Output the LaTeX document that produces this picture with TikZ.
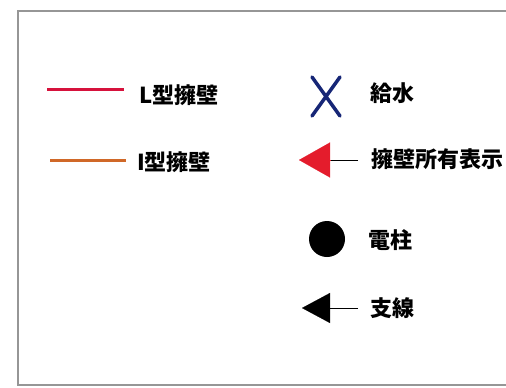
\documentclass[tikz,border=0pt]{standalone}
\usepackage{fontspec}
\setmainfont{Noto Sans CJK JP}
\usetikzlibrary{arrows.meta}
\definecolor{lwallred}{RGB}{214,18,60}
\definecolor{iwallorange}{RGB}{208,104,40}
\definecolor{waterblue}{RGB}{22,38,118}
\definecolor{ownred}{RGB}{228,28,44}
\definecolor{framegray}{RGB}{150,150,150}
\begin{document}
\begin{tikzpicture}[x=1pt,y=-1pt,
  lbl/.style={anchor=west,inner sep=0pt,font=\fontsize{22}{22}\selectfont\bfseries},
  tail/.style={line width=1pt},
  headred/.style={-{Triangle[length=31pt,width=35pt,fill=ownred]},draw=ownred},
  headblack/.style={-{Triangle[length=28pt,width=30pt]},draw=black}]
\useasboundingbox (0,0) rectangle (506,388);
\def\frameline{(506,11) -| (18,385) -- (506,385)}

% frame
\draw[framegray, line width=1.5pt] \frameline;

% left column: walls
\coordinate (lwallA) at (47,89);
\coordinate (lwallB) at (124,89);
\draw[lwallred, line width=3pt] (lwallA) -- (lwallB);
\node[lbl] (lwalltxt) at (139,95) {L型擁壁};

\coordinate (iwallA) at (50,160);
\coordinate (iwallB) at (126,160);
\draw[iwallorange, line width=3pt] (iwallA) -- (iwallB);
\node[lbl] (iwalltxt) at (137,162) {I型擁壁};

% right column: symbols
\begin{scope}[waterblue, line width=3.5pt, line cap=round] % X for water supply
\draw (312,77) -- (340,116);
\draw (340,77) -- (312,116);
\end{scope}
\node[lbl] (watertxt) at (370,93) {給水};

\coordinate (ownA) at (358,160);
\coordinate (ownB) at (299,160);
\draw[tail] (ownA) -- (330,160);
\draw[headred, line width=0.1pt] (330,160) -- (ownB);
\node[lbl] (owntxt) at (371,159) {擁壁所有表示};

\node[circle, fill=black, minimum size=36pt, inner sep=0pt] (pole) at (327,239) {};
\node[lbl] (poletxt) at (368,240) {電柱};

\coordinate (stayA) at (358,308);
\coordinate (stayB) at (302,308);
\draw[tail] (stayA) -- (330,308);
\draw[headblack, line width=0.1pt] (330,308) -- (stayB);
\node[lbl] (staytxt) at (370,308) {支線};
\end{tikzpicture}
\end{document}
